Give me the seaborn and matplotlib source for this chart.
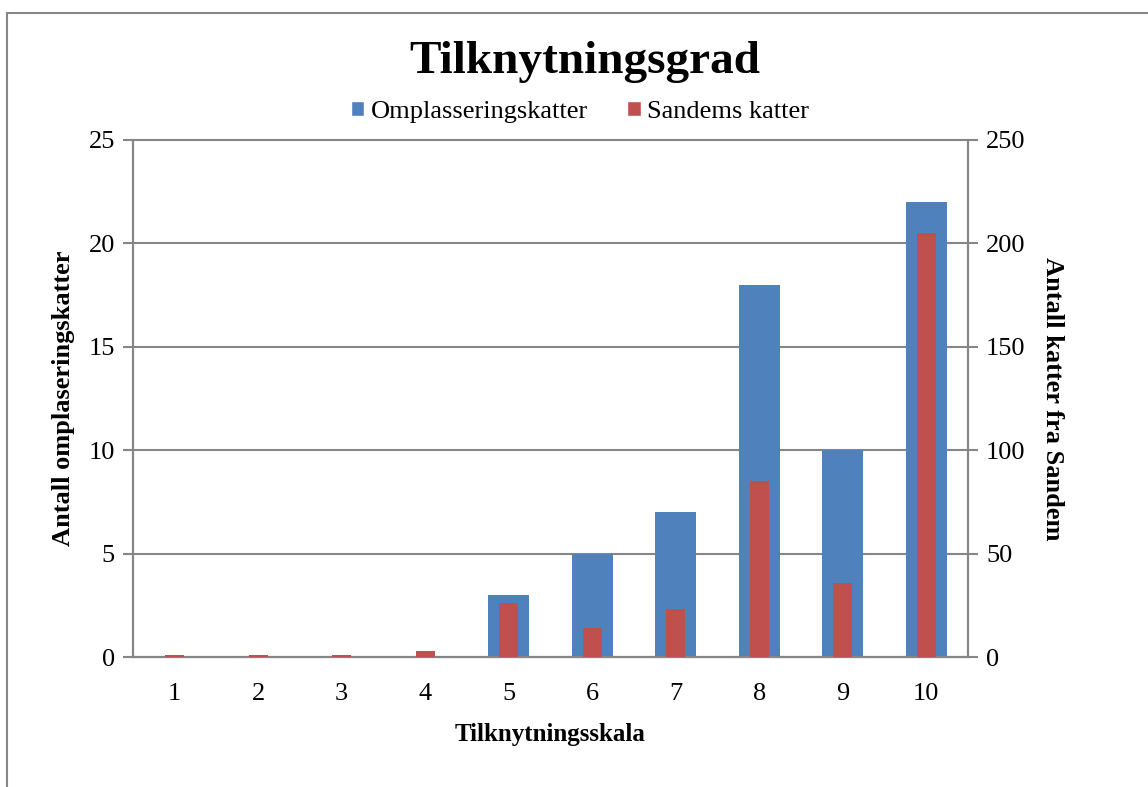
import numpy as np
import pandas as pd
import matplotlib.pyplot as plt
import seaborn as sns
from matplotlib.patches import Patch
from matplotlib.lines import Line2D

# data
skala = ["1", "2", "3", "4", "5", "6", "7", "8", "9", "10"]
omplassering = [0, 0, 0, 0, 3, 5, 7, 18, 10, 22]
sandem = [1, 1, 1, 3, 26, 14, 23, 85, 36, 205]

left_ticks = [0, 5, 10, 15, 20, 25]
right_ticks = [0, 50, 100, 150, 200, 250]

BLUE = "#4F81BD"
RED = "#C0504D"
GREY = "#868686"

sns.set_style("white")
plt.rcParams['font.family'] = ['Liberation Serif', 'DejaVu Serif']
plt.rcParams['text.color'] = 'black'
plt.rcParams['axes.labelcolor'] = 'black'
plt.rcParams['xtick.color'] = 'black'
plt.rcParams['ytick.color'] = 'black'

df = pd.DataFrame({"skala": skala, "omplassering": omplassering, "sandem": sandem})

fig = plt.figure(figsize=(11.48, 7.87), dpi=100)
ax = fig.add_axes([133 / 1148, 130 / 787, 835 / 1148, 517 / 787])
ax2 = ax.twinx()

sns.barplot(data=df, x="skala", y="omplassering", order=skala, color=BLUE,
            width=0.49, saturation=1, errorbar=None, linewidth=0, ax=ax)
sns.barplot(data=df, x="skala", y="sandem", order=skala, color=RED,
            width=0.225, saturation=1, errorbar=None, linewidth=0, ax=ax2)

# bars sit on top of the axis line, like the original
for a in (ax, ax2):
    for p in a.patches:
        p.set_zorder(3)

ax.set_ylim(0, 25)
ax2.set_ylim(0, 250)
ax.set_yticks(left_ticks)
ax2.set_yticks(right_ticks)
ax.set_xlim(-0.5, len(skala) - 0.5)

# category boundary ticks, labels centred between them
ax.set_xticks(np.arange(-0.5, len(skala), 1))
ax.set_xticklabels([])
ax.set_xticks(np.arange(len(skala)), minor=True)
ax.set_xticklabels(skala, minor=True)
ax.tick_params(axis="x", which="minor", length=0, pad=19, labelsize=19)
ax.tick_params(axis="x", which="major", length=7, width=1.5, color=GREY, direction="out")
ax.tick_params(axis="y", length=7, width=1.5, color=GREY, direction="out",
               labelsize=19, pad=6)
ax2.tick_params(axis="y", length=7, width=1.5, color=GREY, direction="out",
                labelsize=19, pad=6)

ax.yaxis.grid(True, color=GREY, linewidth=1.5)
ax.set_axisbelow(True)
for gl in ax.yaxis.get_gridlines():
    gl.set_clip_on(False)

for a in (ax, ax2):
    a.spines["top"].set_visible(False)
    for s in ("left", "right", "bottom"):
        a.spines[s].set_color(GREY)
        a.spines[s].set_linewidth(1.5)

ax.set_xlabel("Tilknytningsskala", fontsize=18, fontweight="bold", labelpad=13)
ax.set_ylabel("Antall omplaseringskatter", fontsize=19, fontweight="bold", labelpad=10)
ax2.set_xlabel("")
ax2.set_ylabel("Antall katter fra Sandem", fontsize=19, fontweight="bold",
               rotation=-90, labelpad=28)

fig.text(0.509, 1 - 62 / 787, "Tilknytningsgrad", ha="center", va="center",
         fontsize=34, fontweight="bold")

handles = [Patch(facecolor=BLUE, label="Omplasseringskatter"),
           Patch(facecolor=RED, label="Sandems katter")]
fig.legend(handles=handles, loc="center", bbox_to_anchor=(580 / 1148, 1 - 112 / 787),
           ncol=2, frameon=False, fontsize=19, handlelength=0.5, handleheight=0.5,
           handletextpad=0.25, columnspacing=1.5, borderpad=0)

# chart-area border (only top and left are visible in the crop)
fig.add_artist(Line2D([7 / 1148, 7 / 1148], [0, 1 - 13 / 787], color=GREY, lw=1.5))
fig.add_artist(Line2D([7 / 1148, 1], [1 - 13 / 787, 1 - 13 / 787], color=GREY, lw=1.5))

fig.savefig("out.png", dpi=100)
